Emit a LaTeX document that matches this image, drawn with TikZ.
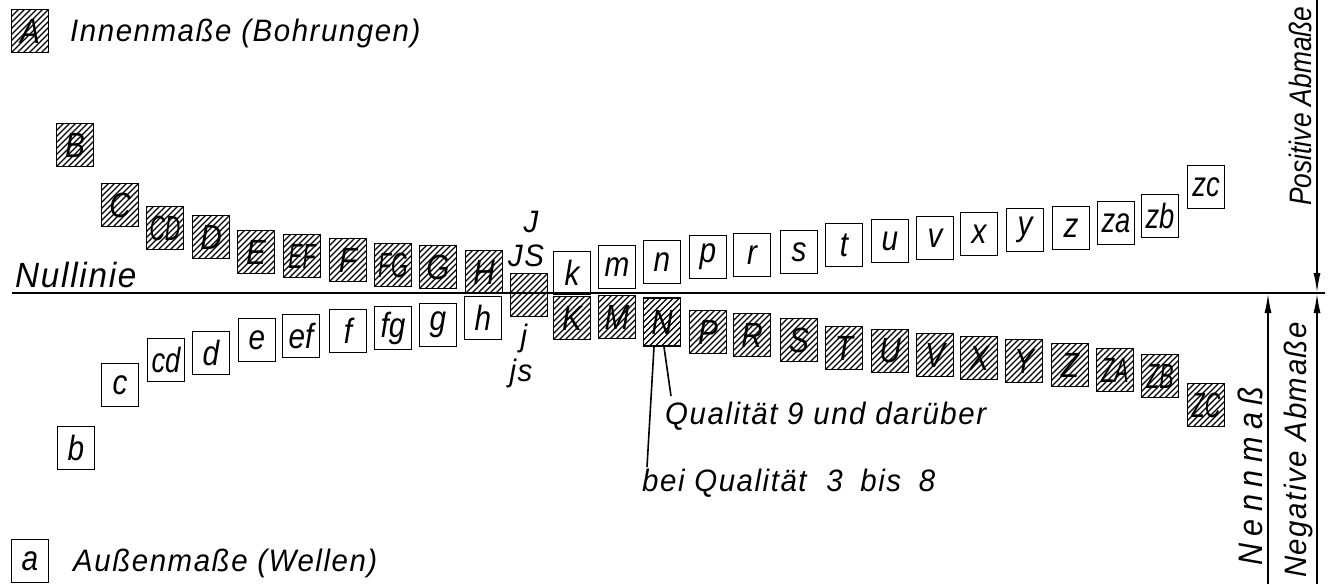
\documentclass[tikz,border=0pt]{standalone}
\usepackage{graphicx}
\usepackage{fontspec}
\setmainfont{Liberation Sans}
\newfontfamily\din{Liberation Sans}[FakeStretch=0.95,LetterSpace=5]
\newfontfamily\dinn{Liberation Sans}[FakeStretch=0.85]
\newfontfamily\dinw{Liberation Sans}[FakeStretch=0.9,LetterSpace=22]
\usetikzlibrary{arrows.meta,calc}
\newcommand\nar[1]{\scalebox{0.72}[1]{#1}}
\newcommand\narl[1]{\scalebox{0.92}[1]{#1}}
\tikzset{
  box/.style={draw, line width=1.8pt, minimum width=37pt, minimum height=43pt,
    inner sep=0pt, font=\dinn\itshape\fontsize{35}{35}\selectfont},
  hbox/.style={box, path picture={\foreach \k in {-8,...,7}
      \draw[line width=1.2pt] ([xshift=\k*6pt]path picture bounding box.south west) -- ++(60pt,60pt);}},
  obox/.style={box},
  lbl/.style={font=\din\itshape\fontsize{31}{31}\selectfont, inner sep=0pt},
  vlbl/.style={lbl, rotate=90},
  mainline/.style={line width=2pt},
  arr/.style={line width=1.8pt, -{Latex[length=20pt,width=7pt]}},
}
\begin{document}
\begin{tikzpicture}[x=1pt,y=-1pt]
\useasboundingbox (0,0) rectangle (1330,584);
\fill[white] (0,0) rectangle (1330,584);

% legend
\node[hbox] (legA) at (30,31) {A};
\node[lbl, anchor=west] (legAt) at (70,33) {Innenmaße (Bohrungen)};
\node[obox] (lega) at (30,561) {a};
\node[lbl, anchor=west] (legat) at (73,563) {Außenmaße (Wellen)};

% null line
\coordinate (nl0) at (12,293);
\coordinate (nl1) at (1325,293);
\draw[mainline] (nl0) -- (nl1);
\node[lbl, anchor=west, font=\din\itshape\fontsize{35}{35}\selectfont] (nulltxt) at (15,275) {Nullinie};

% hatched boxes above the line
\foreach \n/\t/\x/\y in {uB/B/75/145, uC/C/120/205, uCD/{\nar{CD}}/165/228, uD/D/211/237,
  uE/E/256/252, uEF/{\nar{EF}}/302/256, uF/F/348/260, uFG/{\nar{FG}}/393/265,
  uG/G/438/267, uH/H/484/272}
  \node[hbox] (\n) at (\x,\y) {\t};
\node[hbox] (JSb) at (529,295) {};

% open boxes above the line
\foreach \n/\t/\x/\y in {lk/k/572/273, lm/m/617/267, ln/n/662/262, lp/p/708/257,
  lr/r/752/255, ls/s/799/252, lt/t/844/245, lu/u/890/241, lv/v/935/238,
  lx/x/979/234, ly/y/1025/230, lz/z/1071/228, lza/{\narl{za}}/1116/223,
  lzb/{\narl{zb}}/1160/216, lzc/{\narl{zc}}/1206/187}
  \node[obox] (\n) at (\x,\y) {\t};

% open boxes below the line
\foreach \n/\t/\x/\y in {lb/b/76/448, lc/c/120/385, lcd/{\narl{cd}}/166/360, ld/d/211/353,
  le/e/257/340, lef/ef/301/336, lf/f/348/331, lfg/fg/393/328,
  lg/g/438/325, lh/h/483/318}
  \node[obox] (\n) at (\x,\y) {\t};

% hatched boxes below the line
\foreach \n/\t/\x/\y in {uK/K/572/318, uM/M/617/317, uP/P/708/332,
  uR/R/752/335, uS/S/799/340, uT/T/844/348, uU/U/890/351, uV/V/935/355,
  uX/X/979/358, uY/Y/1024/361, uZ/Z/1070/365, uZA/{\nar{ZA}}/1115/370,
  uZB/{\nar{ZB}}/1160/376, uZC/{\nar{ZC}}/1206/405}
  \node[hbox] (\n) at (\x,\y) {\t};
\node[hbox, minimum height=48pt] (uN) at (662,322) {N};

% J / js labels
\node[lbl] (tJ) at (531,222) {J};
\node[lbl] (tJS) at (526,256) {JS};
\node[lbl] (tj) at (524,338) {j};
\node[lbl] (tjs) at (521,373) {js};

% leaders from N
\node[lbl, anchor=west] (q9) at (665,416) {Qualität 9 und darüber};
\node[lbl, anchor=west] (q38) at (642,483) {bei Qualität\hspace{10pt} 3\hspace{8pt} bis\hspace{8pt} 8};
\coordinate (e1) at (647,467);
\coordinate (e2) at (671,396);
\draw[line width=1.6pt] ([xshift=-8pt]uN.south) -- (e1);
\draw[line width=1.6pt] ([xshift=2pt]uN.south) -- (e2);

% right side dimension lines
\coordinate (rtop) at (1317,0);
\coordinate (rmid) at (1317,293);
\coordinate (rbot) at (1317,584);
\coordinate (nbot) at (1268,584);
\coordinate (nmid) at (1268,293);
\draw[arr] (rtop) -- (rmid);
\draw[arr] (rbot) -- (rmid);
\draw[arr] (nbot) -- (nmid);
\node[vlbl, font=\dinn\itshape\fontsize{31}{31}\selectfont] (pos) at (1300,106) {Positive Abmaße};
\node[vlbl, font=\din\itshape\fontsize{31}{31}\selectfont] (neg) at (1298,450) {Negative Abmaße};
\node[vlbl, font=\dinw\itshape\fontsize{34}{34}\selectfont] (nenn) at (1250,476) {Nennmaß};
\end{tikzpicture}
\end{document}
